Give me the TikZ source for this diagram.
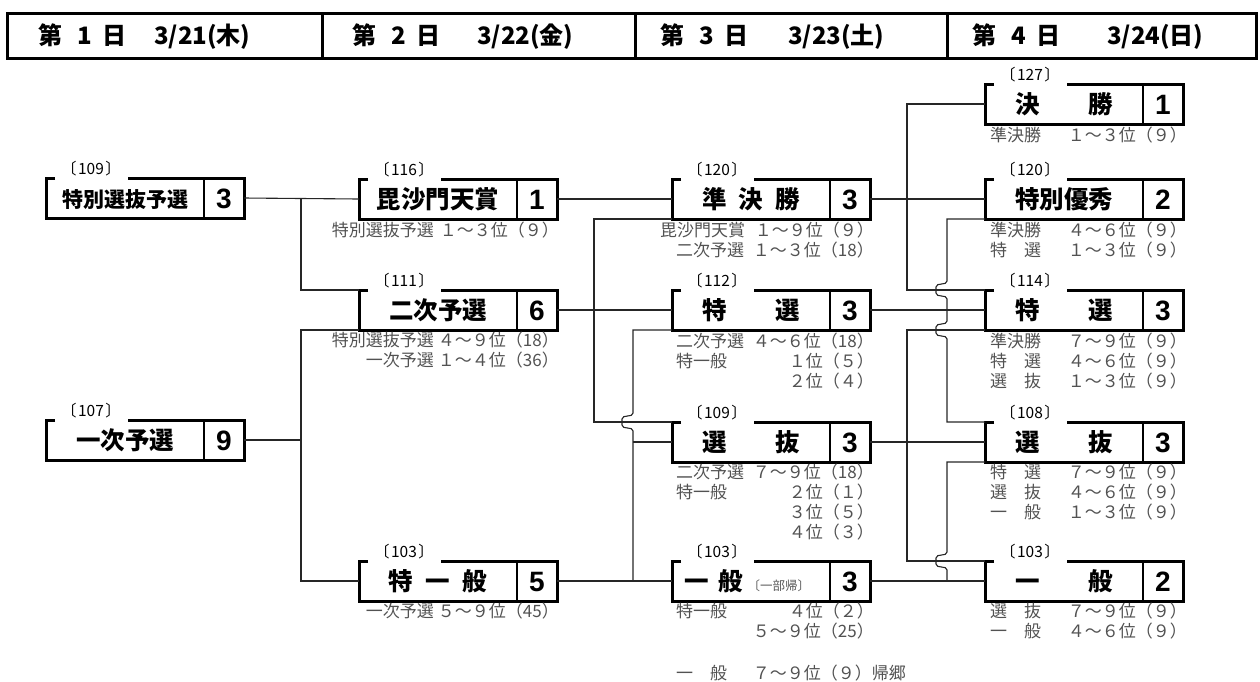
\documentclass[tikz,border=0pt]{standalone}
\usepackage{fontspec}
\setmainfont{Liberation Sans}
\newfontfamily\jp{Noto Sans CJK JP}
\usetikzlibrary{calc}
\definecolor{subgray}{gray}{0.32}
\tikzset{
  boxshape/.style={rectangle, minimum width=198pt, minimum height=40pt, inner sep=0pt, outer sep=0pt},
  boxline/.style={line width=3pt, draw=black},
  divline/.style={line width=2.6pt, draw=black},
  codelab/.style={font=\jp\fontsize{15.5}{15.5}\selectfont, inner sep=0pt, text height=11.6pt, text depth=0.6pt},
  mainlab/.style={font=\jp\bfseries\fontsize{24.5}{24.5}\selectfont, inner sep=0pt, text height=19.6pt, text depth=1pt},
  numlab/.style={font=\fontsize{28}{28}\selectfont, inner sep=0pt, text height=20pt, text depth=0pt},
  subtxt/.style={font=\jp\fontsize{17}{17}\selectfont, text=subgray, inner sep=0pt, text height=13.6pt, text depth=0.7pt},
  conn/.style={line width=1.1pt, draw=black!85},
  hdr/.style={font=\jp\bfseries\fontsize{24}{24}\selectfont, inner sep=0pt, text height=19.2pt, text depth=1pt, anchor=west},
  hdrline/.style={line width=3pt, draw=black},
}
\newcommand\gbox[6]{%
  \node[boxshape, anchor=north west] (#1) at (#2,#3) {};
  \draw[boxline] ($(#1.north west)+(9pt,0)$) -- (#1.north west) -- (#1.south west) -- (#1.south east) -- (#1.north east) -- ($(#1.north west)+(82pt,0)$);
  \draw[divline] ($(#1.north west)+(158pt,0)$) -- ($(#1.south west)+(158pt,0)$);
  \node[codelab] (#1-code) at ($(#1.north west)+(45pt,9pt)$) {〔\hspace{1.5pt}#4\hspace{1.5pt}〕};
  \node[mainlab] (#1-lab) at ($(#1.west)+(79pt,0)$) {#5};
  \node[numlab] (#1-num) at ($(#1.east)+(-20pt,0)$) {\textbf{#6}};
}
\newcommand\src[4]{\node[subtxt,anchor=#2] (#1) at (#3) {#4};}
\newcommand\rk[3]{\node[subtxt,anchor=east] (#1) at (#2) {#3};}
\begin{document}
\begin{tikzpicture}[x=1pt,y=-1pt]
\useasboundingbox (0,0) rectangle (1260,681);
% header
\draw[hdrline] (7,13) rectangle (1256,58);
\draw[hdrline] (322,13) -- (322,58);
\draw[hdrline] (635,13) -- (635,58);
\draw[hdrline] (947,13) -- (947,58);
\node[hdr] (h1a) at (38,35.5) {第\hspace{15.5pt}1\hspace{10.5pt}日};
\node[hdr] (h1b) at (154,35.5) {3/21(木)};
\node[hdr] (h2a) at (352,35.5) {第\hspace{15.5pt}2\hspace{10.5pt}日};
\node[hdr] (h2b) at (477,35.5) {3/22(金)};
\node[hdr] (h3a) at (660,35.5) {第\hspace{15.5pt}3\hspace{10.5pt}日};
\node[hdr] (h3b) at (788,35.5) {3/23(土)};
\node[hdr] (h4a) at (972,35.5) {第\hspace{15.5pt}4\hspace{10.5pt}日};
\node[hdr] (h4b) at (1107,35.5) {3/24(日)};
% boxes
\gbox{tsy}{46}{178}{109}{{\fontsize{21}{21}\selectfont 特別選抜予選}}{3}
\gbox{ichiji}{46}{420}{107}{一次予選}{9}
\gbox{bisha}{359}{179}{116}{毘沙門天賞}{1}
\gbox{niji}{359}{290}{111}{二次予選}{6}
\gbox{tokuip}{359}{561}{103}{\makebox[99pt]{特\hfill 一\hfill 般}}{5}
\gbox{jun}{672}{179}{120}{\makebox[98pt]{準\hfill 決\hfill 勝}}{3}
\gbox{toku3}{672}{290}{112}{\makebox[98pt]{特\hfill 選}}{3}
\gbox{sen3}{672}{422}{109}{\makebox[98pt]{選\hfill 抜}}{3}
\gbox{ippan3}{672}{561}{103}{\makebox[158pt][l]{\hspace{12pt}一\hspace{10.5pt}般\hspace{4pt}{\mdseries\color{black!65}\fontsize{12.5}{12.5}\selectfont 〔一部帰〕}}}{3}
\gbox{kessho}{985}{84}{127}{\makebox[98pt]{決\hfill 勝}}{1}
\gbox{yushu}{985}{179}{120}{特別優秀}{2}
\gbox{toku4}{985}{290}{114}{\makebox[98pt]{特\hfill 選}}{3}
\gbox{sen4}{985}{422}{108}{\makebox[98pt]{選\hfill 抜}}{3}
\gbox{ippan4}{985}{561}{103}{\makebox[98pt]{一\hfill 般}}{2}
% bus lines
\coordinate (bA) at (301,0);
\coordinate (bB) at (594,0);
\coordinate (bC) at (633,0);
\coordinate (bD) at (907,0);
\coordinate (bE) at (947,0);
% day1 -> day2
\draw[conn] (tsy.east) -- (bisha.west);
\draw[conn] (tsy.east -| bA) |- (niji.north west);
\draw[conn] (ichiji.east) -- (ichiji.east -| bA);
\draw[conn] (niji.south west) -| (bA |- tokuip.west) -- (tokuip.west);
% day2 -> day3
\draw[conn] (bisha.east) -- (jun.west);
\draw[conn] (niji.east) -- (toku3.west);
\draw[conn] (jun.south west) -| (bB |- sen3.north west) -- (sen3.north west);
\draw[conn] (tokuip.east) -- (ippan3.west);
\draw[conn] (toku3.south west) -- (bC |- toku3.south west) -- ($(bC |- sen3.north west)+(0,9pt)$) to[out=-90,in=90] ++(-11pt,-6pt) -- ++(0,-6pt) to[out=-90,in=90] ++(11pt,-6pt) -- (bC |- tokuip.east);
\draw[conn] (bC |- sen3.west) -- (sen3.west);
% day3 -> day4
\draw[conn] (jun.east) -- (yushu.west);
\draw[conn] (kessho.west) -| (bD |- toku4.north west) -- (toku4.north west);
\draw[conn] (toku3.east) -- (toku4.west);
\draw[conn] (yushu.south west) -- (bE |- yushu.south west) -- ($(bE |- toku4.north west)+(0,9pt)$) to[out=-90,in=90] ++(-11pt,-6pt) -- ++(0,-6pt) to[out=-90,in=90] ++(11pt,-6pt) -- ($(bE |- toku4.south west)+(0,9pt)$) to[out=-90,in=90] ++(-11pt,-6pt) -- ++(0,-6pt) to[out=-90,in=90] ++(11pt,-6pt) -- (bE |- sen4.north west) -- (sen4.north west);
\draw[conn] (sen3.east) -- (sen4.west);
\draw[conn] (toku4.south west) -| (bD |- ippan4.north west) -- (ippan4.north west);
\draw[conn] (ippan3.east) -- (ippan4.west);
\draw[conn] (sen4.south west) -- (bE |- sen4.south west) -- ($(bE |- ippan4.north west)+(0,9pt)$) to[out=-90,in=90] ++(-11pt,-6pt) -- ++(0,-6pt) to[out=-90,in=90] ++(11pt,-6pt) -- (bE |- ippan4.west);
% sub texts day 2
\src{s1}{east}{434,230}{特別選抜予選} \rk{r1}{559,230}{１～３位（９）}
\src{s2}{east}{434,340}{特別選抜予選} \rk{r2}{559,340}{４～９位（18）}
\src{s3}{east}{434,360}{一次予選} \rk{r3}{559,360}{１～４位（36）}
\src{s4}{east}{434,611}{一次予選} \rk{r4}{559,611}{５～９位（45）}
% day 3
\src{s5}{west}{660,230}{毘沙門天賞} \rk{r5}{874,230}{１～９位（９）}
\src{s6}{west}{676,250}{二次予選} \rk{r6}{874,250}{１～３位（18）}
\src{s7}{west}{676,341}{二次予選} \rk{r7}{874,341}{４～６位（18）}
\src{s8}{west}{676,361}{特一般} \rk{r8}{874,361}{１位（５）}
\rk{r9}{874,381}{２位（４）}
\src{s10}{west}{676,472}{二次予選} \rk{r10}{874,472}{７～９位（18）}
\src{s11}{west}{676,492}{特一般} \rk{r11}{874,492}{２位（１）}
\rk{r12}{874,512}{３位（５）}
\rk{r13}{874,532}{４位（３）}
\src{s14}{west}{676,611}{特一般} \rk{r14}{874,611}{４位（２）}
\rk{r15}{874,631}{５～９位（25）}
\src{s16}{west}{676,673}{一　般} \rk{r16}{906,673}{７～９位（９）帰郷}
% day 4
\src{s17}{west}{990,135}{準決勝} \rk{r17}{1187,135}{１～３位（９）}
\src{s18}{west}{990,230}{準決勝} \rk{r18}{1187,230}{４～６位（９）}
\src{s19}{west}{990,250}{特　選} \rk{r19}{1187,250}{１～３位（９）}
\src{s20}{west}{990,341}{準決勝} \rk{r20}{1187,341}{７～９位（９）}
\src{s21}{west}{990,361}{特　選} \rk{r21}{1187,361}{４～６位（９）}
\src{s22}{west}{990,381}{選　抜} \rk{r22}{1187,381}{１～３位（９）}
\src{s23}{west}{990,472}{特　選} \rk{r23}{1187,472}{７～９位（９）}
\src{s24}{west}{990,492}{選　抜} \rk{r24}{1187,492}{４～６位（９）}
\src{s25}{west}{990,512}{一　般} \rk{r25}{1187,512}{１～３位（９）}
\src{s26}{west}{990,611}{選　抜} \rk{r26}{1187,611}{７～９位（９）}
\src{s27}{west}{990,631}{一　般} \rk{r27}{1187,631}{４～６位（９）}
\end{tikzpicture}
\end{document}
